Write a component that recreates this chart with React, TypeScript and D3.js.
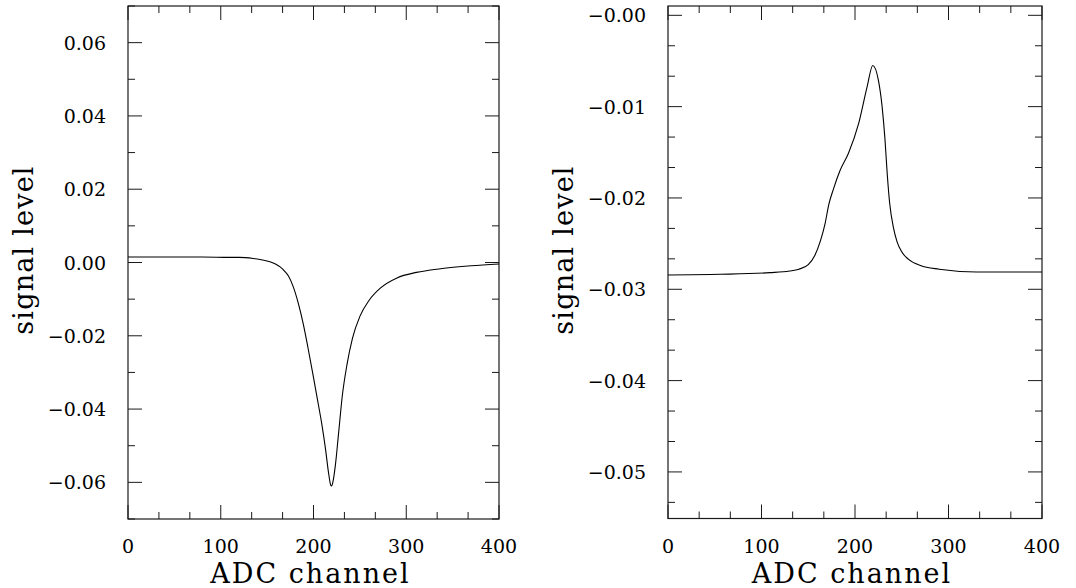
import React from "react";
import * as d3 from "d3";

// ---- data ----
const leftX = [0, 40, 80, 110, 120, 135, 145, 153, 159, 164, 169, 173, 178, 183.5, 189, 194, 199, 204, 209, 213, 216, 218.5, 219.5, 221, 223.5, 227, 231, 236, 242, 250, 260, 272, 290, 311, 337, 370, 400];
const leftY = [0.0015, 0.0015, 0.0015, 0.0014, 0.0014, 0.0011, 0.0007, 0.0002, -0.0004, -0.0012, -0.0024, -0.0037, -0.0065, -0.011, -0.0168, -0.0232, -0.03, -0.037, -0.0442, -0.051, -0.057, -0.0607, -0.061, -0.0598, -0.0555, -0.0467, -0.0365, -0.028, -0.0207, -0.0147, -0.0103, -0.007, -0.0042, -0.0027, -0.0017, -0.0009, -0.0004];

const rightX = [0, 56, 109, 130, 140, 150, 157, 163, 168, 172, 177, 184, 193, 204, 213, 219, 225, 229, 232, 234.5, 237, 241, 245, 250, 257, 270, 290, 330, 400];
const rightY = [-0.02843, -0.02836, -0.02818, -0.028, -0.0278, -0.0273, -0.0263, -0.0247, -0.0228, -0.0207, -0.019, -0.017, -0.0151, -0.0118, -0.0078, -0.0055, -0.0071, -0.01, -0.0135, -0.0174, -0.0205, -0.0232, -0.0248, -0.0259, -0.0267, -0.0274, -0.0278, -0.0281, -0.0281];

const xTicks = [0, 100, 200, 300, 400];
const xTickLabels = ["0", "100", "200", "300", "400"];
const leftYTicks = [-0.06, -0.04, -0.02, 0, 0.02, 0.04, 0.06];
const leftYTickLabels = ["\u22120.06", "\u22120.04", "\u22120.02", "0.00", "0.02", "0.04", "0.06"];
const rightYTicks = [-0.05, -0.04, -0.03, -0.02, -0.01, 0];
const rightYTickLabels = ["\u22120.05", "\u22120.04", "\u22120.03", "\u22120.02", "\u22120.01", "\u22120.00"];

const xLabel = "ADC channel";
const yLabel = "signal level";

const FONT = "'DejaVu Serif', serif";

function range(a: number, b: number, step: number) {
  const out: number[] = [];
  for (let v = a; v <= b + step * 1e-6; v += step) out.push(v);
  return out;
}

type PanelProps = {
  x0: number; x1: number; y0: number; y1: number;
  yDomain: [number, number];
  xs: number[]; ys: number[];
  yTicks: number[]; yTickLabels: string[];
  yMinorStep: number;
};

function Panel(p: PanelProps) {
  const x = d3.scaleLinear().domain([0, 400]).range([p.x0, p.x1]);
  const y = d3.scaleLinear().domain(p.yDomain).range([p.y1, p.y0]);
  const pts = p.xs.map((v, i) => [v, p.ys[i]] as [number, number]);
  const line = d3.line<[number, number]>().x(d => x(d[0])).y(d => y(d[1])).curve(d3.curveMonotoneX);
  const xMinor = range(0, 400, 100 / 3).filter(v => Math.abs(v / 100 - Math.round(v / 100)) > 1e-3);
  const start = Math.ceil(p.yDomain[0] / p.yMinorStep - 1e-6) * p.yMinorStep;
  const yMinor = range(start, p.yDomain[1], p.yMinorStep).filter(v => !p.yTicks.some(t => Math.abs(t - v) < p.yMinorStep * 0.1));
  const MAJ = 14, MIN = 7;
  const stroke = "#1a1a1a";
  return (
    <g>
      {xTicks.map(t => (
        <g key={"xt" + t}>
          <line x1={x(t)} x2={x(t)} y1={p.y1} y2={p.y1 - MAJ} stroke={stroke} />
          <line x1={x(t)} x2={x(t)} y1={p.y0} y2={p.y0 + MAJ} stroke={stroke} />
        </g>
      ))}
      {xMinor.map(t => (
        <g key={"xm" + t}>
          <line x1={x(t)} x2={x(t)} y1={p.y1} y2={p.y1 - MIN} stroke={stroke} />
          <line x1={x(t)} x2={x(t)} y1={p.y0} y2={p.y0 + MIN} stroke={stroke} />
        </g>
      ))}
      {p.yTicks.map(t => (
        <g key={"yt" + t}>
          <line x1={p.x0} x2={p.x0 + MAJ} y1={y(t)} y2={y(t)} stroke={stroke} />
          <line x1={p.x1} x2={p.x1 - MAJ} y1={y(t)} y2={y(t)} stroke={stroke} />
        </g>
      ))}
      {yMinor.map(t => (
        <g key={"ym" + t}>
          <line x1={p.x0} x2={p.x0 + MIN} y1={y(t)} y2={y(t)} stroke={stroke} />
          <line x1={p.x1} x2={p.x1 - MIN} y1={y(t)} y2={y(t)} stroke={stroke} />
        </g>
      ))}
      <rect x={p.x0} y={p.y0} width={p.x1 - p.x0} height={p.y1 - p.y0} fill="none" stroke={stroke} strokeWidth={1.2} />
      <path d={line(pts) || ""} fill="none" stroke="#000" strokeWidth={1.1} />
      {xTicks.map((t, i) => (
        <text key={"xl" + t} x={x(t)} y={553} textAnchor="middle" fontFamily={FONT} fontSize={19} fill="#000">{xTickLabels[i]}</text>
      ))}
      {p.yTicks.map((t, i) => (
        <text key={"yl" + t} x={p.x0 - 22} y={y(t) + 7} textAnchor="end" fontFamily={FONT} fontSize={19} fill="#000">{p.yTickLabels[i]}</text>
      ))}
      <text x={(p.x0 + p.x1) / 2 - 3} y={583} textAnchor="middle" fontFamily={FONT} fontSize={27} letterSpacing={2} fill="#000">{xLabel}</text>
      <text transform={`translate(${p.x0 - 95},250) rotate(-90)`} textAnchor="middle" fontFamily={FONT} fontSize={27} letterSpacing={1.2} fill="#000">{yLabel}</text>
    </g>
  );
}

export default function App() {
  return (
    <svg width={1076} height={588} style={{ position: "absolute", left: 0, top: 0, background: "#fff" }}>
      <rect x={0} y={0} width={1076} height={588} fill="#fff" />
      <Panel x0={128} x1={499} y0={6} y1={519} yDomain={[-0.07, 0.07]} xs={leftX} ys={leftY}
        yTicks={leftYTicks} yTickLabels={leftYTickLabels} yMinorStep={0.01} />
      <Panel x0={668} x1={1042} y0={6} y1={518.5} yDomain={[-0.0551, 0.00102]} xs={rightX} ys={rightY}
        yTicks={rightYTicks} yTickLabels={rightYTickLabels} yMinorStep={0.01 / 3} />
    </svg>
  );
}
